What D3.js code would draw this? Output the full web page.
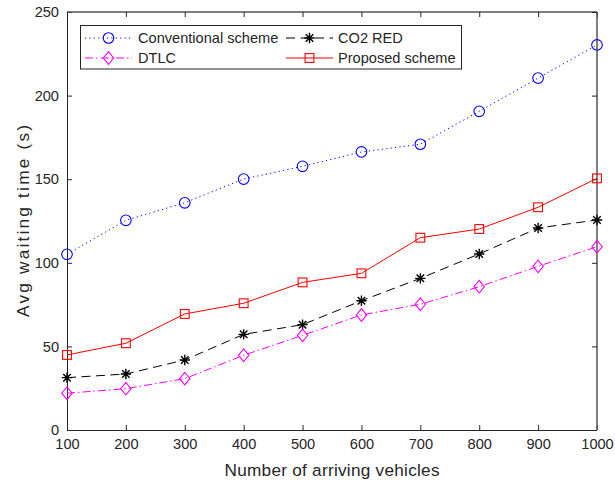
<!DOCTYPE html>
<html><head><meta charset="utf-8">
<script src="https://cdn.jsdelivr.net/npm/d3@7"></script>
<style>body{margin:0;background:#fff}svg{display:block}text{font-family:"Liberation Sans",Arial,sans-serif;fill:#262626}</style>
</head><body><svg id="c" width="615" height="483"></svg>
<script>
const xValues = [100,200,300,400,500,600,700,800,900,1000];
const conventional = [105.1,125.4,135.9,150.1,157.7,166.3,170.9,190.6,210.5,230.3];
const co2red = [31.3,33.5,41.9,57.2,63,77.3,90.7,105.3,120.8,125.6];
const dtlc = [22,24.7,30.7,44.7,56.6,68.8,75.2,85.7,97.9,109.6];
const proposed = [44.9,51.9,69.4,75.8,88.3,93.7,115,120.2,133.2,150.5];
const xTicks = [100,200,300,400,500,600,700,800,900,1000];
const yTicks = [0,50,100,150,200,250];
const seriesNames = ["Conventional scheme","CO2 RED","DTLC","Proposed scheme"];

const L=67,R=597,T=12,B=430;
const svg=d3.select("#c");
const x=d3.scaleLinear().domain([100,1000]).range([L,R]);
const y=d3.scaleLinear().domain([0,250]).range([B,T]);

const series=[
 {name:seriesNames[0],v:conventional,color:"#0000ff",dash:"1.2,3.2",marker:"circle"},
 {name:seriesNames[1],v:co2red,color:"#000000",dash:"9,5.5",marker:"star"},
 {name:seriesNames[2],v:dtlc,color:"#ff00ff",dash:"8,3,1.5,3",marker:"diamond"},
 {name:seriesNames[3],v:proposed,color:"#ff0000",dash:null,marker:"square"}
];

// axes
const gx=svg.append("g").attr("transform",`translate(0,${B})`)
 .call(d3.axisBottom(x).tickValues(xTicks).tickSize(-5).tickPadding(9).tickFormat(d3.format("d")));
const gy=svg.append("g").attr("transform",`translate(${L},0)`)
 .call(d3.axisLeft(y).tickValues(yTicks).tickSize(-5).tickPadding(8));
const gxt=svg.append("g").attr("transform",`translate(0,${T})`)
 .call(d3.axisTop(x).tickValues(xTicks).tickSize(-5).tickFormat(""));
const gyr=svg.append("g").attr("transform",`translate(${R},0)`)
 .call(d3.axisRight(y).tickValues(yTicks).tickSize(-5).tickFormat(""));
[gx,gy,gxt,gyr].forEach(g=>{
 g.select(".domain").attr("stroke","#262626").attr("stroke-width",1);
 g.selectAll(".tick line").attr("stroke","#262626");
 g.selectAll("text").style("font-size","14.6px").attr("fill","#262626");
});
gx.selectAll(".domain").attr("d",`M${L},0.5H${R}`);
gxt.selectAll(".domain").attr("d",`M${L},0H${R}`).attr("stroke","#555").attr("stroke-width",1.5);
gy.selectAll(".domain").attr("d",`M0.5,${B}V${T}`);
gyr.selectAll(".domain").attr("d",`M0,${B}V${T}`).attr("stroke","#555").attr("stroke-width",1.5);

svg.append("text").attr("x",(L+R)/2).attr("y",476).attr("text-anchor","middle").style("font-size","17.2px")
 .attr("textLength",215).attr("lengthAdjust","spacing").text("Number of arriving vehicles");
svg.append("text").attr("transform",`translate(29,${(T+B)/2}) rotate(-90)`).attr("text-anchor","middle").style("font-size","17.2px")
 .attr("textLength",192).attr("lengthAdjust","spacing").text("Avg waiting time (s)");

function drawMarker(g,type,cx,cy,color){
 if(type==="circle") g.append("circle").attr("cx",cx).attr("cy",cy).attr("r",5.3).attr("fill","none").attr("stroke",color).attr("stroke-width",1.1);
 else if(type==="square") g.append("rect").attr("x",cx-4.4).attr("y",cy-4.4).attr("width",8.8).attr("height",8.8).attr("fill","none").attr("stroke",color).attr("stroke-width",1.1);
 else if(type==="diamond") g.append("path").attr("d",`M${cx},${cy-6.3}L${cx+5.2},${cy}L${cx},${cy+6.3}L${cx-5.2},${cy}Z`).attr("fill","none").attr("stroke",color).attr("stroke-width",1.1);
 else if(type==="star"){
  const r=5.2,d=r*0.72;
  g.append("path").attr("d",`M${cx-r},${cy}H${cx+r}M${cx},${cy-r}V${cy+r}M${cx-d},${cy-d}L${cx+d},${cy+d}M${cx-d},${cy+d}L${cx+d},${cy-d}`).attr("stroke",color).attr("stroke-width",1.4);
 }
}

const line=d3.line().x((d,i)=>x(xValues[i])).y(d=>y(d));
series.forEach(s=>{
 const g=svg.append("g");
 g.append("path").datum(s.v).attr("d",line).attr("fill","none").attr("stroke",s.color).attr("stroke-width",1).attr("stroke-dasharray",s.dash);
 s.v.forEach((v,i)=>drawMarker(g,s.marker,x(xValues[i]),y(v),s.color));
});

// legend
const lg=svg.append("g");
lg.append("rect").attr("x",80.5).attr("y",25.5).attr("width",381).attr("height",43.5).attr("fill","#fff").attr("stroke","#262626").attr("stroke-width",1);
const cols=[{x0:85,x1:132,tx:138},{x0:286,x1:333,tx:338}];
const rows=[38,58];
const order=[[0,0,0],[1,1,0],[2,0,1],[3,1,1]];
order.forEach(([si,c,r])=>{
 const s=series[si],col=cols[c],cy=rows[r];
 lg.append("line").attr("x1",col.x0).attr("x2",col.x1).attr("y1",cy).attr("y2",cy).attr("stroke",s.color).attr("stroke-width",1).attr("stroke-dasharray",s.dash);
 drawMarker(lg,s.marker,(col.x0+col.x1)/2,cy,s.color);
 lg.append("text").attr("x",col.tx).attr("y",cy+5.2).style("font-size","14.6px").text(s.name);
});
</script></body></html>
